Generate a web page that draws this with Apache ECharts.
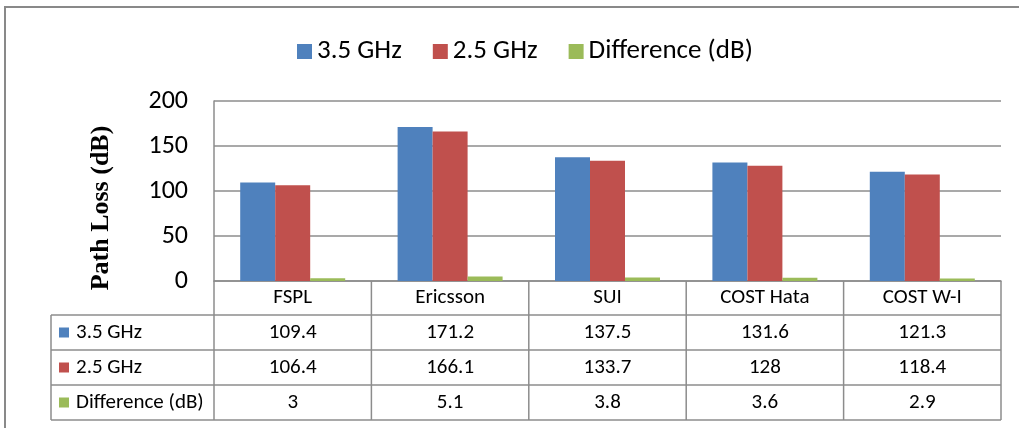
<!DOCTYPE html>
<html>
<head>
<meta charset="utf-8">
<script src="https://cdn.jsdelivr.net/npm/echarts@6/dist/echarts.min.js"></script>
<style>
  html, body { margin: 0; padding: 0; background: #fff; }
  #chart { width: 1019px; height: 428px; }
</style>
</head>
<body>
<div id="chart"></div>
<script>
const models = ["FSPL", "Ericsson", "SUI", "COST Hata", "COST W-I"];
const seriesNames = ["3.5 GHz", "2.5 GHz", "Difference (dB)"];
const loss35 = [109.4, 171.2, 137.5, 131.6, 121.3];
const loss25 = [106.4, 166.1, 133.7, 128, 118.4];
const diff = [3, 5.1, 3.8, 3.6, 2.9];
const yTicks = [0, 50, 100, 150, 200];

const colors = ["#4F81BD", "#C0504D", "#9BBB59"];
const font = "Carlito, Lato, sans-serif";
const lineGray = "#8C8C8C";

const chart = echarts.init(document.getElementById("chart"));

// layout of plot + data table
const plotLeft = 214;
const plotRight = 1001;
const plotTop = 101;
const plotBottom = 281;
const tableLeft = 51;
const rowH = 35;
const headerH = 34;
const cellFont = "21px " + font;

function buildTable() {
  const allRows = [loss35, loss25, diff];
  const colW = (plotRight - plotLeft) / models.length;
  const firstRowTop = plotBottom + headerH;
  const tableBottom = firstRowTop + rowH * allRows.length;
  const els = [];

  // horizontal lines
  for (let r = 0; r <= allRows.length; r++) {
    const y = firstRowTop + r * rowH;
    els.push({
      type: "line",
      shape: { x1: tableLeft, y1: y, x2: plotRight, y2: y },
      style: { stroke: lineGray, lineWidth: 1.5 }
    });
  }
  // vertical lines
  els.push({
    type: "line",
    shape: { x1: tableLeft, y1: firstRowTop, x2: tableLeft, y2: tableBottom },
    style: { stroke: lineGray, lineWidth: 1.5 }
  });
  for (let c = 0; c <= models.length; c++) {
    const x = plotLeft + c * colW;
    els.push({
      type: "line",
      shape: { x1: x, y1: plotBottom, x2: x, y2: tableBottom },
      style: { stroke: lineGray, lineWidth: 1.5 }
    });
  }
  // header row (category names)
  models.forEach((m, c) => {
    els.push({
      type: "text",
      x: plotLeft + (c + 0.5) * colW,
      y: plotBottom + headerH / 2,
      style: { text: m, font: cellFont, fill: "#000", align: "center", verticalAlign: "middle" }
    });
  });
  // row labels with keys, and values
  allRows.forEach((vals, r) => {
    const cy = firstRowTop + (r + 0.5) * rowH;
    els.push({
      type: "rect",
      shape: { x: tableLeft + 8, y: cy - 5, width: 10, height: 10 },
      style: { fill: colors[r] }
    });
    els.push({
      type: "text",
      x: tableLeft + 25,
      y: cy,
      style: { text: seriesNames[r], font: cellFont, fill: "#000", align: "left", verticalAlign: "middle" }
    });
    vals.forEach((v, c) => {
      els.push({
        type: "text",
        x: plotLeft + (c + 0.5) * colW,
        y: cy,
        style: { text: String(v), font: cellFont, fill: "#000", align: "center", verticalAlign: "middle" }
      });
    });
  });
  return els;
}

const graphics = [
  {
    type: "rect",
    shape: { x: 5, y: 7, width: 1100, height: 500 },
    style: { fill: null, stroke: "#898989", lineWidth: 2 },
    silent: true
  },
  {
    type: "text",
    x: 101,
    y: 208,
    rotation: Math.PI / 2,
    style: {
      text: "Path Loss (dB)",
      font: "bold 26px 'Liberation Serif', 'Times New Roman', serif",
      fill: "#000",
      align: "center",
      verticalAlign: "middle"
    }
  }
].concat(buildTable());

chart.setOption({
  animation: false,
  color: colors,
  legend: {
    top: 33,
    left: 292,
    itemWidth: 15,
    itemHeight: 15,
    itemGap: 31,
    icon: "rect",
    textStyle: { fontSize: 27, fontFamily: font, color: "#000" },
    data: seriesNames
  },
  grid: {
    left: plotLeft,
    right: 1019 - plotRight,
    top: plotTop,
    bottom: 428 - plotBottom,
    containLabel: false
  },
  xAxis: {
    type: "category",
    data: models,
    axisLine: { lineStyle: { color: lineGray, width: 1.5 } },
    axisTick: { show: false },
    axisLabel: { show: false }
  },
  yAxis: {
    type: "value",
    min: yTicks[0],
    max: yTicks[yTicks.length - 1],
    interval: 50,
    axisLine: { show: true, lineStyle: { color: lineGray, width: 1.5 } },
    axisTick: { show: false },
    axisLabel: { fontSize: 26, fontFamily: font, color: "#000", margin: 26 },
    splitLine: { lineStyle: { color: lineGray, width: 1.5 } }
  },
  series: [
    { name: seriesNames[0], type: "bar", data: loss35, barWidth: 35, barGap: "0%" },
    { name: seriesNames[1], type: "bar", data: loss25, barWidth: 35, barGap: "0%" },
    { name: seriesNames[2], type: "bar", data: diff, barWidth: 35, barGap: "0%" }
  ],
  graphic: graphics
});
</script>
</body>
</html>
